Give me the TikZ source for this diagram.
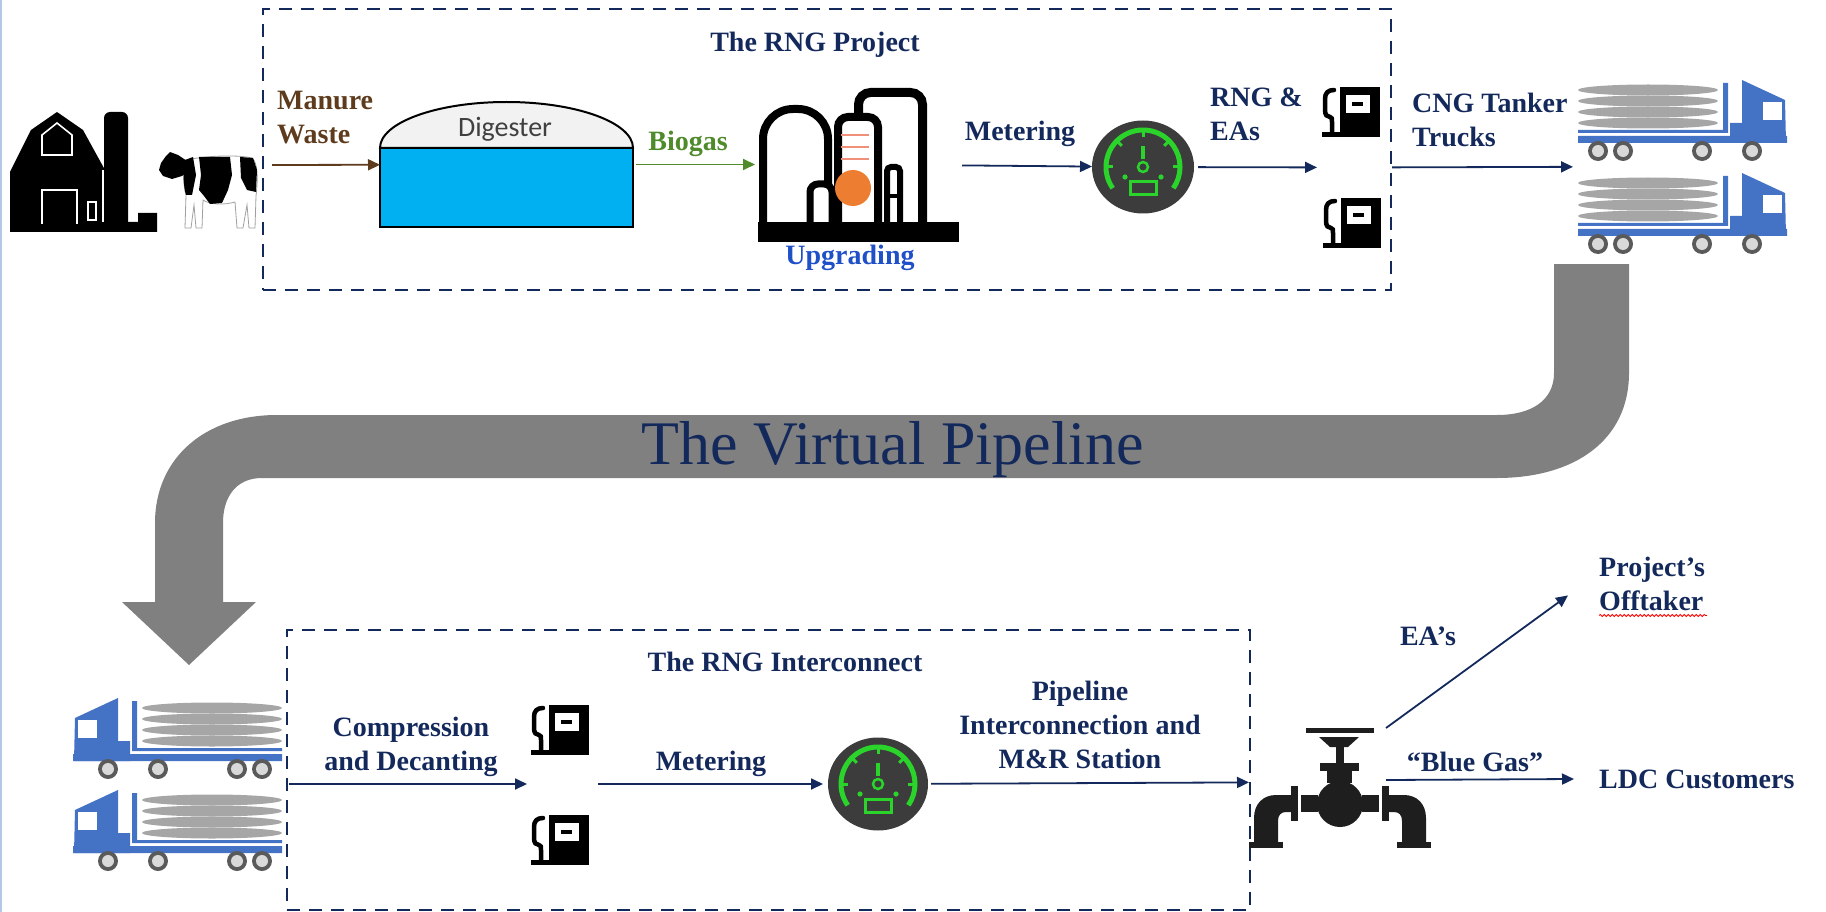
\documentclass[tikz,border=0pt]{standalone}
\usepackage{fontspec}
\setmainfont{Liberation Serif}
\newfontfamily\digfont{Carlito}
\usetikzlibrary{arrows.meta,shapes.geometric,decorations.pathmorphing}

\definecolor{navy}{HTML}{14295B}
\definecolor{manure}{HTML}{5E3B1C}
\definecolor{biogas}{HTML}{4F8A2B}
\definecolor{upblue}{HTML}{1F50C8}
\definecolor{water}{HTML}{00B0F0}
\definecolor{dome}{HTML}{F2F2F2}
\definecolor{digtext}{HTML}{404040}
\definecolor{flame}{HTML}{ED7D31}
\definecolor{coil}{HTML}{F0907A}
\definecolor{dialgrey}{HTML}{3C3C3C}
\definecolor{gauge}{HTML}{2BD42B}
\definecolor{truckblue}{HTML}{4472C4}
\definecolor{cylinder}{HTML}{A6A6A6}
\definecolor{rim}{HTML}{5A5A5A}
\definecolor{hub}{HTML}{D9D9D9}
\definecolor{pipegrey}{HTML}{808080}
\definecolor{valveblack}{HTML}{1E1E1E}
\definecolor{cowline}{HTML}{A0A0A0}
\definecolor{edge}{HTML}{B4C7E7}

\tikzset{
  lbl/.style={font=\bfseries\fontsize{28}{34}\selectfont, text=navy, inner sep=0pt},
  flow/.style={draw=navy, line width=1.8pt, -{Triangle[length=12pt,width=11pt]}},
  area/.style={draw=navy, line width=2.6pt, dash pattern=on 13pt off 9pt},
  icon/.style={draw=none, inner sep=0pt, outer sep=0pt},
  dial/.style={ellipse, fill=dialgrey, inner sep=0pt, outer sep=0pt,
    minimum width=102pt, minimum height=93pt},
  % green speedometer face, drawn round the dial centre
  pics/gauge/.style={code={
    \draw[gauge, line width=5pt] (145:37) arc[start angle=145, end angle=395, radius=37];
    \foreach \a in {180,225,270,315,360}
      \draw[gauge, line width=3pt] (\a:38) -- (\a:30);
    \draw[gauge, line width=4pt] (0,-8) -- (0,-21);
    \draw[gauge, line width=2.5pt] (0,0) circle (5);
    \fill[gauge] (-18,10) circle (2.6) (18,10) circle (2.6);
    \draw[gauge, line width=3pt] (-13,15) rectangle (13,28);
  }},
  % fuel pump, origin at the lower left corner of the body
  pics/pump/.style={code={
    \fill (0,-50) rectangle (40,0);
    \fill[white] (6,-42) rectangle (30,-24);
    \fill (12,-35) rectangle (23,-31);
    \fill (-18,-5) rectangle (0,0);
    \draw[line width=4.5pt, line cap=round] (-6,-47) .. controls (-12,-47) and (-15,-44) .. (-15,-38)
      -- (-15,-27) .. controls (-15,-22) and (-13,-20) .. (-10,-20)
      .. controls (-8,-20) and (-8,-18) .. (-8,-15) -- (-8,-4);
  }},
  % tube trailer truck, origin at the rear end of the bed
  pics/truck/.style={code={
    \foreach \y in {-53,-42,-31,-20}
      \fill[cylinder] (70,\y) ellipse [x radius=70, y radius=5.5];
    \fill[truckblue] (145,-60) rectangle (150,-10) (0,-13) rectangle (150,-10) (0,-7) rectangle (209,0);
    \fill[truckblue] (152,-20) -- (164,-20) -- (164,-63) -- (207,-43) -- (208,0) -- (152,0) -- cycle;
    \fill[white] (185,-41) rectangle (204,-23);
    \foreach \x in {20,45,124,174} {
      \fill[rim] (\x,8) circle (10);
      \fill[hub] (\x,8) circle (6);
    }
  }},
}

\begin{document}
\begin{tikzpicture}[x=1pt, y=-1pt]
\useasboundingbox (0,0) rectangle (1826,912);
\draw[edge, line width=1.5pt] (1,0) -- (1,912);

% ---- the RNG project ----
\node[area, minimum width=1128pt, minimum height=281pt] (project) at (827,149.5) {};
\node[lbl, anchor=base] (projtitle) at (815,52) {The RNG Project};

% barn and silo
\fill (10,232) -- (10,172) -- (31,130) -- (57,112) -- (83,130) -- (105,170) -- (105,232) -- cycle;
\fill[rounded corners=6pt] (104,232) -- (104,112) -- (128,112) -- (128,232) -- cycle;
\fill (104,224) rectangle (157,232);
\fill (128,222) -- (138,222) -- (138,213) -- (157,213) -- (157,232) -- (128,232) -- cycle;
\draw[white, line width=1.6pt] (42,155) -- (42,135) -- (57,123) -- (72,135) -- (72,155) -- cycle;
\draw[white, line width=1.6pt] (42,224) -- (42,190) -- (77,190) -- (77,224);
\draw[white, line width=1.6pt] (88,202) rectangle (96,220);
\draw[white, line width=1.4pt] (103,170) -- (103,222);

% cow
\filldraw[fill=white, draw=cowline, line width=0.8pt] (186,160) .. controls (210,155) and (240,155) .. (252,158)
  .. controls (258,162) and (258,180) .. (256,196) -- (255,228) -- (249,228) -- (247,205) -- (243,228)
  -- (237,228) -- (235,202) .. controls (225,205) and (210,205) .. (203,200) -- (202,228) -- (196,228)
  -- (194,205) -- (191,228) -- (185,228) -- (186,195) .. controls (183,185) and (183,170) .. (186,160) -- cycle;
\fill (185,160) -- (193,157) -- (196,175) -- (192,195) -- (186,195) .. controls (183,185) and (183,170) .. (185,160) -- cycle;
\fill (199,157) -- (230,157) -- (232,175) -- (228,190) -- (222,203) -- (210,204) -- (204,196) -- (199,190) -- (201,175) -- cycle;
\fill (240,157) -- (253,158) -- (257,170) -- (256,192) -- (247,190) -- (241,178) -- cycle;
\fill (187,161) -- (178,155) -- (170,152) -- (166,156) -- (161,163) -- (159,170) -- (163,176) -- (172,179) -- (182,176) -- (187,172) -- cycle;

\coordinate (farm) at (272,165);
\node[lbl, text=manure, anchor=base west, align=left] (manurelbl) at (277,144) {Manure\\Waste};

% digester
\node[icon, minimum width=253pt, minimum height=125pt] (digester) at (506.5,164.5) {};
\filldraw[fill=water, line width=2pt] (380,148) rectangle (633,227);
\filldraw[fill=dome, line width=2pt] (380,148) arc[start angle=180, end angle=360, x radius=126.5, y radius=46] -- cycle;
\node[font=\digfont\fontsize{28}{30}\selectfont, text=digtext, inner sep=0pt, anchor=base] (digtitle) at (505,137) {Digester};
\node[lbl, text=biogas, anchor=base] (biogaslbl) at (688,151) {Biogas};

% upgrading plant
\node[icon, minimum width=201pt, minimum height=155pt] (upgrade) at (858.5,164.5) {};
\draw[line width=9pt, fill=white, rounded corners=12pt] (858.5,240) -- (858.5,92.5) -- (922.5,92.5) -- (922.5,240);
\draw[line width=8pt, fill=white, rounded corners=30pt] (763,240) -- (763,109) -- (828,109) -- (828,240);
\draw[line width=8pt, fill=white, rounded corners=10pt] (838,240) -- (838,117) -- (878,117) -- (878,240);
\draw[line width=7pt, fill=white, rounded corners=8pt] (810,240) -- (810,184) -- (832,184) -- (832,240);
\draw[line width=6pt, fill=white, rounded corners=4pt] (887,240) -- (887,167) -- (900,167) -- (900,240);
\draw[line width=4pt] (887,196) -- (900,196);
\fill (758,222) rectangle (959,242);
\foreach \y in {135,147,159}
  \draw[coil, line width=2pt] (841,\y) -- (869,\y);
\fill[flame] (853,188) circle (18);
\node[lbl, text=upblue, anchor=base] (uplbl) at (850,264) {Upgrading};

% metering and dispensing
\node[dial] (meterA) at (1143,167) {};
\pic at (meterA) {gauge};
\node[lbl, anchor=base] (meterlblA) at (1020,141) {Metering};
\node[icon, minimum width=62pt, minimum height=161pt] (pumpsA) at (1351,167.5) {};
\pic at (1340,137) {pump};
\pic at (1341,248) {pump};
\node[lbl, anchor=base west, align=left] (rnglbl) at (1210,141) {RNG \&\\EAs};

% tanker trucks
\node[icon, minimum width=209pt, minimum height=175pt] (trucksA) at (1682.5,166.5) {};
\pic at (1578,143) {truck};
\pic at (1578,236) {truck};
\node[lbl, anchor=base west, align=left] (cnglbl) at (1412,147) {CNG Tanker\\Trucks};

\draw[flow, draw=manure] (farm) -- (digester);
\draw[flow, draw=biogas, shorten <=3pt, shorten >=3pt] (digester) -- (upgrade);
\draw[flow, shorten <=3pt] (upgrade) -- (meterA);
\draw[flow, shorten <=4pt, shorten >=3pt] (meterA) -- (pumpsA);
\draw[flow, shorten <=10pt, shorten >=5pt] (pumpsA) -- (trucksA);

% ---- the virtual pipeline ----
\fill[pipegrey] (1554,264) -- (1629,264) -- (1629,373)
  .. controls (1629,440) and (1575,478) .. (1497,478) -- (262,478)
  .. controls (236,478) and (223,497) .. (223,523) -- (223,602) -- (256,602) -- (189,665)
  -- (122,602) -- (155,602) -- (155,523) .. controls (155,458) and (205,415) .. (277,415)
  -- (1497,415) .. controls (1532,415) and (1554,400) .. (1554,373) -- cycle;
\node[font=\fontsize{62}{70}\selectfont, text=navy, inner sep=0pt, anchor=base] (vp) at (893,464) {The Virtual Pipeline};

% ---- the RNG interconnect ----
\node[area, minimum width=963pt, minimum height=280pt] (interconnect) at (768.5,770) {};
\node[lbl, anchor=base] (ictitle) at (785,671) {The RNG Interconnect};

\node[icon, minimum width=209pt, minimum height=172pt] (trucksB) at (177.5,784) {};
\pic[xscale=-1] at (282,761) {truck};
\pic[xscale=-1] at (282,853) {truck};
\node[lbl, anchor=base, align=center] (complbl) at (411,770) {Compression\\and Decanting};

\node[icon, minimum width=60pt, minimum height=162pt] (pumpsB) at (559,784) {};
\pic at (549,755) {pump};
\pic at (549,865) {pump};

\node[dial, minimum width=100pt] (meterB) at (878,784) {};
\pic at (meterB) {gauge};
\node[lbl, anchor=base] (meterlblB) at (711,770) {Metering};
\node[lbl, anchor=base, align=center] (mrlbl) at (1080,768) {Pipeline\\Interconnection and\\M\&R Station};

% valve
\node[icon, minimum width=186pt, minimum height=132pt] (valve) at (1342,782) {};
\begin{scope}[valveblack]
  \fill (1306,728) rectangle (1374,733);
  \fill (1319,737) -- (1359,737) -- (1348,747) -- (1330,747) -- cycle;
  \fill (1336,747) rectangle (1344,763);
  \fill (1320,763) rectangle (1359,771);
  \fill (1327,771) rectangle (1352,783);
  \fill (1340,804) circle (23);
  \foreach \s/\o in {1/0,-1/2680} {
    \begin{scope}[xshift=\o pt, xscale=\s]
      \fill (1291,786) rectangle (1298,821);
      \fill (1301,795) rectangle (1318,812);
      \fill (1291,795) -- (1276,795) .. controls (1263,795) and (1254,804) .. (1254,818) -- (1254,842)
        -- (1278,842) -- (1278,821) .. controls (1278,815) and (1281,812) .. (1286,812) -- (1291,812) -- cycle;
      \fill (1249,842) rectangle (1283,848);
    \end{scope}
  }
\end{scope}

\node[lbl, anchor=base west, align=left] (offtaker) at (1599,610) {Project’s\\Offtaker};
\draw[red, line width=0.8pt, decorate, decoration={snake, amplitude=1pt, segment length=4pt}]
  ([yshift=-5pt]offtaker.south west) -- ++(108,0);
\node[lbl, anchor=west] (ldc) at (1599,779) {LDC Customers};
\node[lbl, anchor=base] (ealbl) at (1428,645) {EA’s};
\node[lbl, anchor=base] (bluelbl) at (1475,771) {“Blue Gas”};

\draw[flow, shorten <=7pt, shorten >=2pt] (trucksB) -- (pumpsB);
\draw[flow, shorten <=9pt, shorten >=5pt] (pumpsB) -- (meterB);
\draw[flow, shorten <=3pt] (meterB) -- (valve);
\draw[flow] ([xshift=-49pt,yshift=-12pt]valve.north east) -- ([xshift=-31pt,yshift=-12pt]offtaker.west);
\draw[flow] ([xshift=-49pt,yshift=2pt]valve.east) -- ([xshift=-25pt]ldc.west);
\end{tikzpicture}
\end{document}
